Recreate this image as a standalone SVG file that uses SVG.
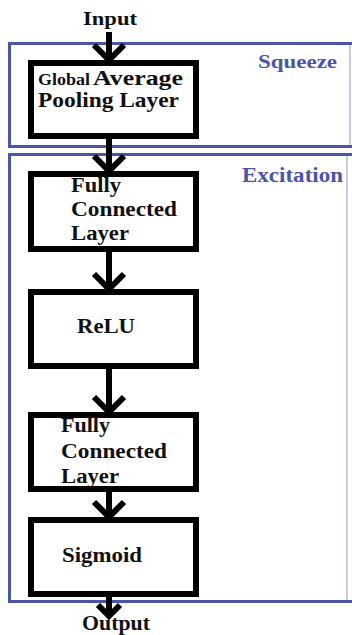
<svg xmlns="http://www.w3.org/2000/svg" width="352" height="635" viewBox="0 0 352 635">
<style>
.bg{fill:#ffffff}
.grp{fill:none;stroke:#4a55a8;stroke-width:3}
.grpfaint{fill:none;stroke:#c9cde8;stroke-width:2}
.box{fill:#ffffff;stroke:#000000;stroke-width:6}
.t{font-family:"Liberation Serif","Times New Roman",serif;font-weight:bold;fill:#111111}
.blue{fill:#4a55a8}
.edge{fill:none;stroke:#000000;stroke-width:6}
</style>
<defs>
<marker id="chev" markerUnits="userSpaceOnUse" viewBox="-20 -20 30 40" refX="0" refY="0" markerWidth="30" markerHeight="40" orient="auto" overflow="visible">
<polyline points="-15,-15 0,0 -15,15" fill="none" stroke="#000000" stroke-width="6" stroke-linejoin="miter"/>
</marker>
<marker id="chevs" markerUnits="userSpaceOnUse" viewBox="-20 -20 30 40" refX="0" refY="0" markerWidth="30" markerHeight="40" orient="auto" overflow="visible">
<polyline points="-11,-11 0,0 -11,11" fill="none" stroke="#000000" stroke-width="6" stroke-linejoin="miter"/>
</marker>
</defs>
<rect class="bg" x="0" y="0" width="352" height="635"/>
<g id="squeeze">
<line class="grp" x1="8" y1="43.5" x2="352" y2="43.5"/>
<line class="grp" x1="8" y1="146.5" x2="352" y2="146.5"/>
<line class="grp" x1="9.5" y1="42" x2="9.5" y2="148"/>
<line class="grpfaint" x1="350" y1="45" x2="350" y2="145"/>
<text class="t blue" x="258" y="68" font-size="19" textLength="79" lengthAdjust="spacingAndGlyphs">Squeeze</text>
</g>
<g id="excitation">
<line class="grp" x1="8" y1="154.5" x2="352" y2="154.5"/>
<line class="grp" x1="8" y1="601.5" x2="352" y2="601.5"/>
<line class="grp" x1="9.5" y1="153" x2="9.5" y2="603"/>
<line class="grpfaint" x1="347" y1="156" x2="347" y2="600"/>
<text class="t blue" x="242" y="182" font-size="20" textLength="101" lengthAdjust="spacingAndGlyphs">Excitation</text>
</g>
<g id="connectors">
<line class="edge" x1="109" y1="32" x2="109" y2="60" marker-end="url(#chev)"/>
<line class="edge" x1="109" y1="139" x2="109" y2="171" marker-end="url(#chev)"/>
<line class="edge" x1="109" y1="252" x2="109" y2="289" marker-end="url(#chev)"/>
<line class="edge" x1="109" y1="369" x2="109" y2="412" marker-end="url(#chev)"/>
<line class="edge" x1="109" y1="492" x2="109" y2="517" marker-end="url(#chev)"/>
<line class="edge" x1="109" y1="597" x2="109" y2="616" marker-end="url(#chevs)"/>
</g>
<g id="input">
<text class="t" x="83" y="25" font-size="19" textLength="54" lengthAdjust="spacingAndGlyphs">Input</text>
</g>
<g id="gap">
<rect class="box" x="31" y="63" width="165" height="73"/>
<text class="t" y="85"><tspan x="38" font-size="16" textLength="52" lengthAdjust="spacingAndGlyphs">Global</tspan><tspan x="93" font-size="21" textLength="90" lengthAdjust="spacingAndGlyphs">Average</tspan></text>
<text class="t" x="38" y="107" font-size="21" textLength="141" lengthAdjust="spacingAndGlyphs">Pooling Layer</text>
</g>
<g id="fc1">
<rect class="box" x="31" y="174" width="165" height="75"/>
<text class="t" x="71" y="192" font-size="20" textLength="50" lengthAdjust="spacingAndGlyphs">Fully</text>
<text class="t" x="71" y="216" font-size="20" textLength="106" lengthAdjust="spacingAndGlyphs">Connected</text>
<text class="t" x="71" y="240" font-size="20" textLength="58" lengthAdjust="spacingAndGlyphs">Layer</text>
</g>
<g id="relu">
<rect class="box" x="31" y="292" width="165" height="74"/>
<text class="t" x="77" y="333" font-size="20" textLength="58" lengthAdjust="spacingAndGlyphs">ReLU</text>
</g>
<g id="fc2">
<rect class="box" x="31" y="415" width="165" height="74"/>
<text class="t" x="61" y="432" font-size="20" textLength="49" lengthAdjust="spacingAndGlyphs">Fully</text>
<text class="t" x="61" y="458" font-size="20" textLength="106" lengthAdjust="spacingAndGlyphs">Connected</text>
<text class="t" x="61" y="483" font-size="20" textLength="58" lengthAdjust="spacingAndGlyphs">Layer</text>
</g>
<g id="sigmoid">
<rect class="box" x="31" y="520" width="165" height="74"/>
<text class="t" x="62" y="562" font-size="20" textLength="80" lengthAdjust="spacingAndGlyphs">Sigmoid</text>
</g>
<g id="output">
<text class="t" x="82" y="630" font-size="20" textLength="68" lengthAdjust="spacingAndGlyphs">Output</text>
</g>
</svg>
